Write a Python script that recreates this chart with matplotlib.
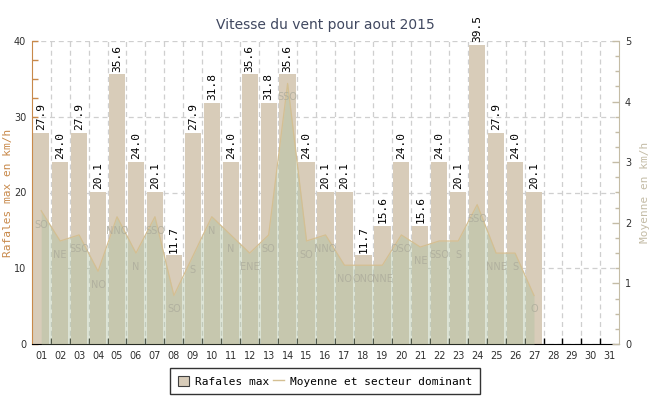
import numpy as np
import matplotlib
matplotlib.use("Agg")
import matplotlib.pyplot as plt
from matplotlib.patches import Patch
from matplotlib.lines import Line2D

# donnees
jours = ["%02d" % d for d in range(1, 32)]
rafales = [27.9, 24.0, 27.9, 20.1, 35.6, 24.0, 20.1, 11.7, 27.9, 31.8,
           24.0, 35.6, 31.8, 35.6, 24.0, 20.1, 20.1, 11.7, 15.6, 24.0,
           15.6, 24.0, 20.1, 39.5, 27.9, 24.0, 20.1]
moyenne = [2.2, 1.7, 1.8, 1.2, 2.1, 1.5, 2.1, 0.8, 1.45, 2.1,
           1.8, 1.5, 1.8, 4.3, 1.7, 1.8, 1.3, 1.3, 1.3, 1.8,
           1.6, 1.7, 1.7, 2.3, 1.5, 1.5, 0.8]
secteur = ["SO", "NE", "SSO", "NO", "NNO", "N", "SSO", "SO", "S", "N",
           "N", "ENE", "SO", "SSO", "SO", "NNO", "NO", "ONO", "NNE", "OSO",
           "NE", "SSO", "S", "SSO", "NNE", "S", "O"]

c_bar = "#d8ccb9"
c_line = "#d4bf92"
c_area = "#b2c3a2"
c_left = "#c8894a"
c_right = "#c4bca6"
mono = "DejaVu Sans Mono"

fig = plt.figure(figsize=(6.5, 4), dpi=100)
ax = fig.add_axes([0.0488, 0.14, 0.9040, 0.7575])
ax2 = ax.twinx()

x = np.arange(1, len(rafales) + 1)
ax.bar(x, rafales, width=0.86, color=c_bar, zorder=2)
for xi, v in zip(x, rafales):
    ax.annotate("%.1f" % v, (xi, v), xytext=(0, 2), textcoords="offset points",
                rotation=90, ha="center", va="bottom", fontsize=8,
                family=mono, color="black", annotation_clip=False)

ax2.fill_between(x, moyenne, 0, color=c_area, alpha=0.45, lw=0, zorder=3)
ax2.plot(x, moyenne, color=c_line, lw=0.9, zorder=4)
for xi, v, s in zip(x, moyenne, secteur):
    ax2.annotate(s, (xi, v), xytext=(0, -10), textcoords="offset points",
                 ha="center", va="center", fontsize=7, color="#aaa99a",
                 alpha=0.75, zorder=5)

ax.set_xlim(0.5, 31.5)
ax.set_ylim(0, 40)
ax2.set_ylim(0, 5)

# x : traits aux limites, etiquettes au centre
ax.set_xticks(np.arange(1.5, 31, 1))
ax.set_xticklabels([])
ax.set_xticks(np.arange(1, 32), minor=True)
ax.set_xticklabels(jours, minor=True, fontsize=7, color="#303030")
ax.tick_params(axis="x", which="major", direction="in", length=4, width=1,
               color="black")
ax.tick_params(axis="x", which="minor", length=0, pad=5)

ax.set_yticks(np.arange(0, 41, 10))
ax.set_yticks(np.arange(0, 40.1, 2.5), minor=True)
ax.tick_params(axis="y", which="both", direction="in", length=4, width=1,
               color=c_left, labelsize=7, labelcolor="#303030", pad=4)

ax2.set_yticks(np.arange(0, 6, 1))
ax2.set_yticks(np.arange(0, 5.01, 0.25), minor=True)
ax2.tick_params(axis="y", which="major", direction="in", length=5, width=1,
                color=c_right, labelsize=7, labelcolor="#303030", pad=4)
ax2.tick_params(axis="y", which="minor", direction="in", length=3, width=1,
                color=c_right)

ax.grid(True, which="major", axis="both", ls=(0, (4, 3)), color="#cfcfcf",
        lw=0.9)
ax.set_axisbelow(True)

ax.spines["top"].set_visible(False)
ax.spines["right"].set_visible(False)
ax2.spines["top"].set_visible(False)
ax2.spines["left"].set_visible(False)
ax2.spines["bottom"].set_visible(False)
ax.spines["left"].set_color(c_left)
ax.spines["bottom"].set_color("black")
ax2.spines["right"].set_color(c_right)

ax.set_ylabel("Rafales max en km/h", family=mono, fontsize=8, color=c_left)
ax.yaxis.set_label_coords(-0.032, 0.5)
ax2.set_ylabel("Moyenne en km/h", family=mono, fontsize=8, color=c_right)
ax2.yaxis.set_label_coords(1.035, 0.5)
fig.suptitle("Vitesse du vent pour aout 2015", y=0.955, fontsize=10,
             color="#404860")

handles = [Patch(facecolor=c_bar, edgecolor="#404040", lw=0.8),
           Line2D([], [], color=c_line, lw=1)]
leg = fig.legend(handles, ["Rafales max", "Moyenne et secteur dominant"],
                 loc="center", bbox_to_anchor=(0.50, 0.047), ncol=2,
                 fancybox=False, frameon=True, edgecolor="black",
                 prop={"family": mono, "size": 8}, handlelength=1.0,
                 handleheight=1.0, handletextpad=0.5, columnspacing=0.4,
                 borderpad=0.7)
leg.get_frame().set_linewidth(1)

fig.savefig("out.png", dpi=100)
